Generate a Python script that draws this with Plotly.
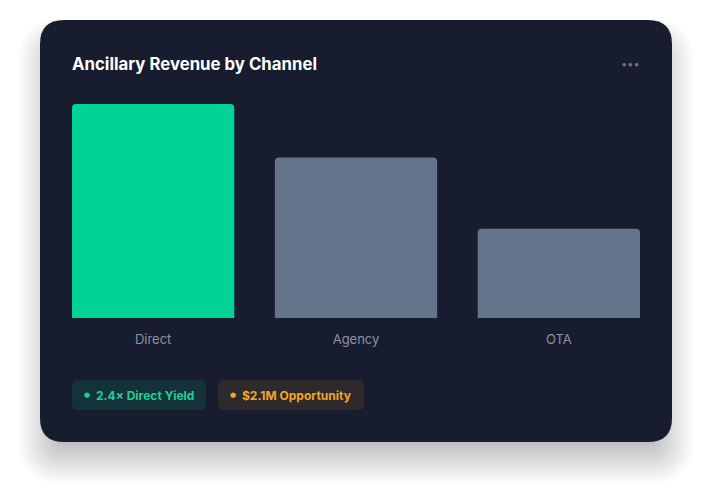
import plotly.graph_objects as go

# revenue by channel ($M)
channels = ["Direct", "Agency", "OTA"]
revenue = [4.8, 3.6, 2.0]
bar_colors = ["#00d395", "#64748b", "#64748b"]

pill_labels = ["2.4× Direct Yield", "$2.1M Opportunity"]

W, H = 712, 502
OFF = 8  # page body margin
L, R, T, B = 72, 640, 104, 318


def px(x):
    return (x - L) / (R - L)


def py(y):
    return (B - y) / (B - T)


def rounded_rect(x0, y0, x1, y1, r):
    # pixel coords -> paper path with rounded corners
    r = max(r, 1)
    pts = [
        f"M {px(x0 + r)},{py(y0)}",
        f"L {px(x1 - r)},{py(y0)}",
        f"Q {px(x1)},{py(y0)} {px(x1)},{py(y0 + r)}",
        f"L {px(x1)},{py(y1 - r)}",
        f"Q {px(x1)},{py(y1)} {px(x1 - r)},{py(y1)}",
        f"L {px(x0 + r)},{py(y1)}",
        f"Q {px(x0)},{py(y1)} {px(x0)},{py(y1 - r)}",
        f"L {px(x0)},{py(y0 + r)}",
        f"Q {px(x0)},{py(y0)} {px(x0 + r)},{py(y0)}",
        "Z",
    ]
    return " ".join(pts)


shapes = []
# soft drop shadow (stacked layers ~ blur)
for e in range(-22, 24, 2):
    shapes.append(dict(
        type="path", xref="paper", yref="paper", layer="below",
        path=rounded_rect(40 - e, 40 - e, 672 + e, 462 + e, 24 + e),
        fillcolor="rgba(0,0,0,0.013)", line=dict(width=0),
    ))
# card
shapes.append(dict(
    type="path", xref="paper", yref="paper", layer="below",
    path=rounded_rect(40, 20, 672, 442, 24),
    fillcolor="#181c2f", line=dict(width=0),
))
# pills
shapes.append(dict(
    type="path", xref="paper", yref="paper", layer="below",
    path=rounded_rect(72, 380, 206, 410, 6),
    fillcolor="#133338", line=dict(width=0),
))
shapes.append(dict(
    type="path", xref="paper", yref="paper", layer="below",
    path=rounded_rect(218, 380, 364, 410, 6),
    fillcolor="#2e2a2b", line=dict(width=0),
))

fig = go.Figure(
    go.Bar(
        x=channels,
        y=revenue,
        marker=dict(color=bar_colors, cornerradius=4, line=dict(width=0)),
        hoverinfo="skip",
    )
)

annotations = [
    dict(text="<b>Ancillary Revenue by Channel</b>", x=px(70), y=py(64),
         xref="paper", yref="paper", xanchor="left", yanchor="middle",
         showarrow=False, font=dict(family="Inter", size=16.8, color="#ffffff")),
    dict(text="•••", x=px(630), y=py(64), xref="paper", yref="paper",
         xanchor="center", yanchor="middle", showarrow=False,
         font=dict(family="Inter", size=11, color="#6b7389")),
    dict(text="●", x=px(87), y=py(395), xref="paper", yref="paper",
         xanchor="center", yanchor="middle", showarrow=False,
         font=dict(family="DejaVu Sans", size=7, color="#1fcf97")),
    dict(text="<b>" + pill_labels[0] + "</b>", x=px(94), y=py(395),
         xref="paper", yref="paper", xanchor="left", yanchor="middle",
         showarrow=False, font=dict(family="Inter", size=12, color="#1fcf97")),
    dict(text="●", x=px(233), y=py(395), xref="paper", yref="paper",
         xanchor="center", yanchor="middle", showarrow=False,
         font=dict(family="DejaVu Sans", size=7, color="#f5a524")),
    dict(text="<b>" + pill_labels[1] + "</b>", x=px(240), y=py(395),
         xref="paper", yref="paper", xanchor="left", yanchor="middle",
         showarrow=False, font=dict(family="Inter", size=12, color="#f5a524")),
]

fig.update_layout(
    width=W, height=H,
    margin=dict(l=L - OFF, r=W - R + OFF, t=T - OFF, b=H - B + OFF),
    paper_bgcolor="#ffffff",
    plot_bgcolor="rgba(0,0,0,0)",
    bargap=0.2,
    showlegend=False,
    shapes=shapes,
    annotations=annotations,
    xaxis=dict(range=[-0.4, 2.4], showgrid=False, zeroline=False,
               showline=False, ticks="", ticklabelstandoff=12,
               tickfont=dict(family="Inter", size=13, color="#8a91a6"),
               fixedrange=True),
    yaxis=dict(range=[0, 4.8], visible=False, fixedrange=True),
)

fig.write_html("out.html", config={"displayModeBar": False})
